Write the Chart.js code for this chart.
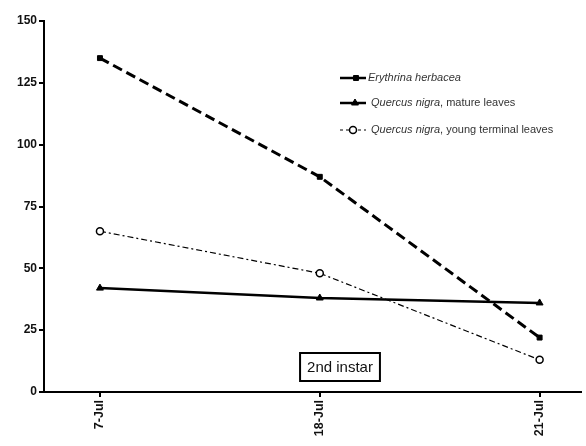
<!DOCTYPE html>
<html>
<head>
<meta charset="utf-8">
<script src="https://cdn.jsdelivr.net/npm/chart.js@4/dist/chart.umd.min.js"></script>
<style>
  html, body { margin: 0; padding: 0; background: #fff; }
  #wrap { width: 586px; height: 446px; position: relative; }
</style>
</head>
<body>
<div id="wrap"><canvas id="c"></canvas></div>
<script>
// Sampling dates (equally spaced on the axis)
const dates = ['7-Jul', '18-Jul', '21-Jul'];

// Series values
const erythrinaHerbacea = [135, 87, 22];
const quercusMature = [42, 38, 36];
const quercusYoung = [65, 48, 13];

// Y axis tick values
const yTicks = [0, 25, 50, 75, 100, 125, 150];

const seriesNames = [
  { italic: 'Erythrina herbacea', plain: '' },
  { italic: 'Quercus nigra', plain: ', mature leaves' },
  { italic: 'Quercus nigra', plain: ', young terminal leaves' }
];
const panelLabel = '2nd instar';

const toPoints = vals => vals.map((v, i) => ({ x: i, y: v }));

const FONT = 'Arial, "Liberation Sans", sans-serif';

// Legend and panel label drawn on top of the plot
const annotations = {
  id: 'annotations',
  afterDraw(chart) {
    const ctx = chart.ctx;
    const ds = chart.data.datasets;
    const rows = [78, 103, 130];
    const markX = [356, 355, 353];
    ctx.save();
    rows.forEach((y, i) => {
      const d = ds[i];
      ctx.strokeStyle = '#000';
      ctx.lineWidth = i === 2 ? 1.2 : 2.5;
      ctx.setLineDash(i === 2 ? [3, 3] : []);
      ctx.beginPath();
      ctx.moveTo(340, y);
      ctx.lineTo(366, y);
      ctx.stroke();
      ctx.setLineDash([]);
      ctx.fillStyle = d.pointBackgroundColor;
      ctx.strokeStyle = '#000';
      ctx.lineWidth = d.pointBorderWidth;
      Chart.helpers.drawPoint(ctx, {
        pointStyle: d.pointStyle,
        radius: d.pointRadius,
        borderWidth: d.pointBorderWidth
      }, markX[i], y);
      const n = seriesNames[i];
      ctx.fillStyle = '#333';
      ctx.textBaseline = 'middle';
      ctx.textAlign = 'left';
      const tx = i === 0 ? 368 : 371;
      ctx.font = 'italic 11px ' + FONT;
      ctx.fillText(n.italic, tx, y);
      const w = ctx.measureText(n.italic).width;
      ctx.font = '11px ' + FONT;
      ctx.fillText(n.plain, tx + w, y);
    });

    // Panel label in a box
    ctx.font = '15px ' + FONT;
    const tw = ctx.measureText(panelLabel).width;
    const cx = 340, cy = 367;
    const bw = tw + 14, bh = 28;
    ctx.fillStyle = '#fff';
    ctx.fillRect(cx - bw / 2, cy - bh / 2, bw, bh);
    ctx.strokeStyle = '#000';
    ctx.lineWidth = 2;
    ctx.strokeRect(cx - bw / 2, cy - bh / 2, bw, bh);
    ctx.fillStyle = '#111';
    ctx.textAlign = 'center';
    ctx.textBaseline = 'middle';
    ctx.fillText(panelLabel, cx, cy + 1);
    ctx.restore();
  }
};

new Chart(document.getElementById('c'), {
  type: 'line',
  data: {
    datasets: [
      {
        label: seriesNames[0].italic,
        data: toPoints(erythrinaHerbacea),
        borderColor: '#000',
        borderWidth: 3,
        borderDash: [10, 5],
        pointStyle: 'rect',
        pointRadius: 3.5,
        pointBorderWidth: 1,
        pointBackgroundColor: '#000',
        pointBorderColor: '#000',
        tension: 0
      },
      {
        label: seriesNames[1].italic + seriesNames[1].plain,
        data: toPoints(quercusMature),
        borderColor: '#000',
        borderWidth: 2.5,
        pointStyle: 'triangle',
        pointRadius: 4,
        pointBorderWidth: 1,
        pointBackgroundColor: '#000',
        pointBorderColor: '#000',
        tension: 0
      },
      {
        label: seriesNames[2].italic + seriesNames[2].plain,
        data: toPoints(quercusYoung),
        borderColor: '#000',
        borderWidth: 1.2,
        borderDash: [6, 3, 2, 3],
        pointStyle: 'circle',
        pointRadius: 3.5,
        pointBorderWidth: 1.5,
        pointBackgroundColor: '#fff',
        pointBorderColor: '#000',
        tension: 0
      }
    ]
  },
  options: {
    responsive: true,
    maintainAspectRatio: false,
    animation: false,
    layout: { padding: { top: 21, right: 0, bottom: 0, left: 0 } },
    plugins: { legend: { display: false }, tooltip: { enabled: false } },
    scales: {
      x: {
        type: 'linear',
        min: -0.2545,
        max: 2.186,
        afterBuildTicks(scale) {
          scale.ticks = dates.map((_, i) => ({ value: i }));
        },
        afterFit(scale) {
          scale.height = 54;
        },
        border: { display: true, color: '#000', width: 2 },
        grid: { display: true, drawOnChartArea: false, drawTicks: true, tickLength: 5, color: '#000', lineWidth: 2 },
        ticks: {
          color: '#111',
          font: { family: FONT, size: 12.5, weight: 'bold' },
          minRotation: 90,
          maxRotation: 90,
          padding: 3,
          autoSkip: false,
          callback: v => dates[v]
        }
      },
      y: {
        min: 0,
        max: 150,
        afterBuildTicks(scale) {
          scale.ticks = yTicks.map(v => ({ value: v }));
        },
        afterFit(scale) {
          scale.width = 44;
        },
        border: { display: true, color: '#000', width: 2 },
        grid: { display: true, drawOnChartArea: false, drawTicks: true, tickLength: 5, color: '#000', lineWidth: 2 },
        ticks: {
          color: '#111',
          font: { family: FONT, size: 12, weight: 'bold' },
          padding: 2
        }
      }
    }
  },
  plugins: [annotations]
});
</script>
</body>
</html>
